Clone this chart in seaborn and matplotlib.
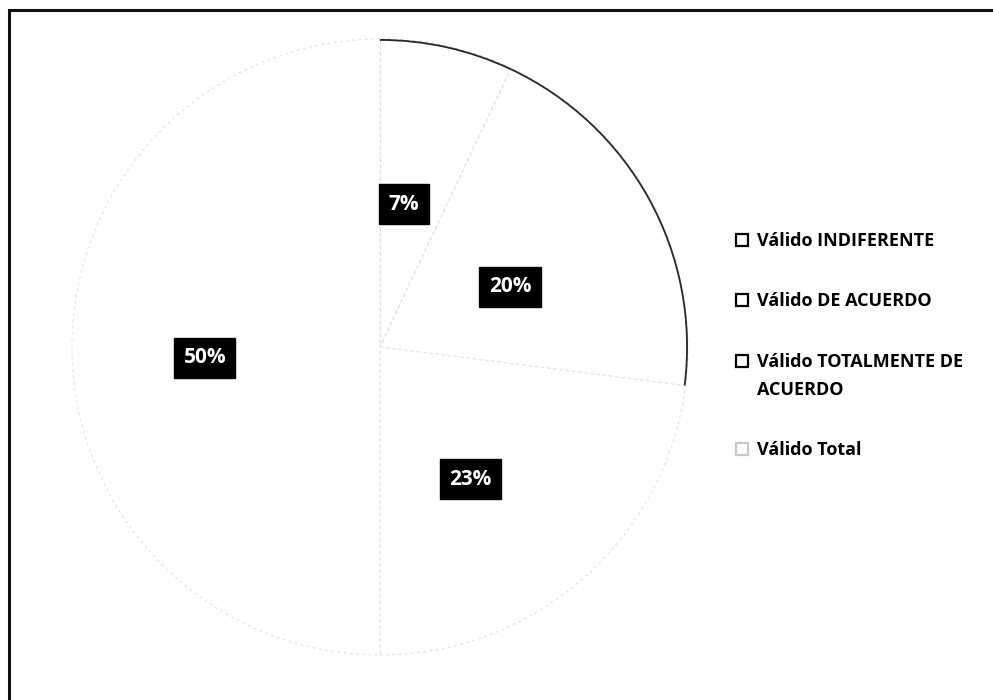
import matplotlib
matplotlib.use("Agg")
import matplotlib.pyplot as plt
from matplotlib.patches import Rectangle
from matplotlib.lines import Line2D
import numpy as np
import seaborn as sns

sns.set_theme(style="white")
plt.rcParams['font.family'] = ['Open Sans', 'DejaVu Sans']
plt.rcParams['text.color'] = 'black'

# ---- data ----
categories = ["Válido INDIFERENTE", "Válido DE ACUERDO",
              "Válido TOTALMENTE DE\nACUERDO", "Válido Total"]
values = [7, 20, 23, 50]
pct_labels = ["7%", "20%", "23%", "50%"]

W, H = 993, 700
fig = plt.figure(figsize=(W / 100, H / 100), dpi=100)
fig.patch.set_facecolor("white")

# pie centred at (380, 347) px, radius 308 px
cx, cy, R = 380, 347, 308
ax = fig.add_axes([(cx - R) / W, (H - cy - R) / H, 2 * R / W, 2 * R / H])

wedges, _ = ax.pie(values, startangle=90, counterclock=False,
                   colors=["white"] * 4, radius=1,
                   wedgeprops=dict(edgecolor="#e2e2e2", linewidth=0.9,
                                   linestyle=(0, (2, 3))))
wedges[0].set_edgecolor("#c4c4c4")
# darker outer rim on the first two slices (scan artefact)
ax.pie(values, startangle=90, counterclock=False, radius=1,
       colors=["#2a2a2a", "#2a2a2a", "none", "none"],
       wedgeprops=dict(width=0.006, linewidth=0))
ax.set_xlim(-1, 1)
ax.set_ylim(-1, 1)
ax.axis("off")

# percentage labels (placed at slice mid-angles)
cum = np.cumsum([0] + values)
tot = sum(values)
dists = [0.47, 0.465, 0.52, 0.57]
nudge = [3, -4, -7, 3.5]
for i, lab in enumerate(pct_labels):
    mid = 90 - 360 * (cum[i] + cum[i + 1]) / 2 / tot + nudge[i]
    r = dists[i]
    ax.text(r * np.cos(np.radians(mid)), r * np.sin(np.radians(mid)), lab,
            ha="center", va="center", color="white", fontsize=15,
            fontweight="bold",
            bbox=dict(boxstyle="square,pad=0.45", facecolor="black",
                      edgecolor="black"))

# legend
edgecols = ["black", "black", "black", "#c8c8c8"]
handles = [Line2D([], [], marker="s", linestyle="none", markersize=9,
                  markerfacecolor="white", markeredgecolor=ec,
                  markeredgewidth=1.6) for ec in edgecols]
leg = fig.legend(handles, categories, loc="upper left",
                 bbox_to_anchor=(737 / W, 1 - 232 / H), frameon=False,
                 prop=dict(weight="bold", size=13),
                 labelspacing=2.35, handlelength=0.6, handletextpad=0.5,
                 borderpad=0, borderaxespad=0)
for t in leg.get_texts():
    t.set_linespacing(1.7)
    t.set_color("black")
# put the marker of the two-line entry level with its first line
mk = leg.legend_handles[2]
mk.set_ydata(np.asarray(mk.get_ydata(), dtype=float) + 11)

# scanned frame (left and top edges)
fig.add_artist(Rectangle((9 / W, -0.05), 1.2, 1 - 10 / H + 0.05,
                         transform=fig.transFigure, fill=False,
                         edgecolor="#111111", linewidth=2.2))

fig.savefig("out.png", dpi=100, facecolor="white")
